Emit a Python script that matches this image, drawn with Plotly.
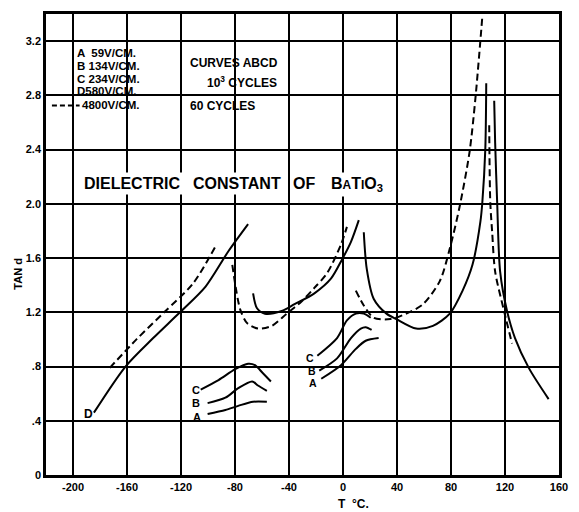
import plotly.graph_objects as go

# ---------------- data (T in deg C, tan d) ----------------
# Curve D, 580 V/cm, 10^3 cycles (solid), four branches
d_low_T = [-184.5, -161.1, -140.6, -120.8, -101.8, -84.9, -70.3]
d_low_v = [0.46, 0.80, 1.01, 1.20, 1.39, 1.65, 1.85]
d_mid_T = [-66.6, -63.7, -57.8, -45.4, -35.9, -21.2, -8.8, -0.7, 5.9, 11.7]
d_mid_v = [1.34, 1.23, 1.19, 1.21, 1.26, 1.34, 1.45, 1.59, 1.72, 1.88]
d_high_T = [15.4, 17.6, 22.7, 32.2, 39.5, 54.2, 66.6, 79.1, 88.6, 95.9, 101.8, 103.2, 105.4, 106.1]
d_high_v = [1.79, 1.52, 1.30, 1.19, 1.15, 1.08, 1.10, 1.19, 1.36, 1.55, 1.87, 2.01, 2.40, 2.89]
d_cubic_T = [112.0, 112.7, 114.2, 116.4, 121.5, 127.4, 137.6, 152.3]
d_cubic_v = [2.76, 2.45, 2.01, 1.50, 1.21, 1.01, 0.79, 0.56]

# 4800 V/cm, 60 cycles (dashed), four branches
h_low_T = [-172.8, -153.0, -132.5, -111.3, -93.7]
h_low_v = [0.79, 1.00, 1.20, 1.41, 1.70]
h_mid_T = [-82.0, -76.1, -71.0, -63.0, -52.7, -41.7, -30.7, -21.2, -11.7, -1.5, 2.9]
h_mid_v = [1.55, 1.22, 1.12, 1.08, 1.10, 1.19, 1.28, 1.38, 1.49, 1.70, 1.83]
h_high_T = [9.5, 15.4, 22.7, 35.1, 46.9, 59.3, 71.7, 79.1, 86.4, 93.7, 98.1, 103.2]
h_high_v = [1.36, 1.25, 1.16, 1.15, 1.19, 1.26, 1.43, 1.67, 1.98, 2.38, 2.78, 3.38]
h_cubic_T = [108.3, 109.1, 110.5, 112.7, 119.3, 125.2]
h_cubic_v = [2.58, 2.01, 1.79, 1.50, 1.21, 0.97]

# Curves A, B, C (10^3 cycles), two groups
a_low_T = [-100.3, -87.1, -77.6, -66.6, -56.4]
a_low_v = [0.45, 0.48, 0.51, 0.54, 0.54]
b_low_T = [-100.3, -87.1, -77.6, -67.3, -63.0, -56.4]
b_low_v = [0.53, 0.57, 0.64, 0.69, 0.66, 0.62]
c_low_T = [-105.4, -92.2, -79.8, -70.3, -65.2, -59.3, -53.4]
c_low_v = [0.63, 0.70, 0.78, 0.82, 0.81, 0.75, 0.69]
a_mid_T = [-16.1, -1.5, 9.5, 16.8, 26.4]
a_mid_v = [0.71, 0.81, 0.93, 0.99, 1.01]
b_mid_T = [-17.6, -4.4, 5.9, 13.2, 16.8, 21.2]
b_mid_v = [0.77, 0.86, 1.01, 1.08, 1.09, 1.07]
c_mid_T = [-19.0, -4.4, 2.9, 9.5, 15.4, 20.5]
c_mid_v = [0.88, 1.01, 1.14, 1.19, 1.19, 1.16]

x_ticks = [-200, -160, -120, -80, -40, 0, 40, 80, 120, 160]
x_tick_text = ["-200", "-160", "-120", "-80", "-40", "0", "40", "80", "120", "160"]
y_ticks = [0, 0.4, 0.8, 1.2, 1.6, 2.0, 2.4, 2.8, 3.2]
y_tick_text = ["0", ".4", ".8", "1.2", "1.6", "2.0", "2.4", "2.8", "3.2"]

# ---------------- figure ----------------
W, H = 579, 512
L, R, T, B = 46, 14, 11, 37
PW, PH = W - L - R, H - T - B


def px(x):
    return (x - L) / PW


def py(y):
    return (H - B - y) / PH


fig = go.Figure()

solid = [(d_low_T, d_low_v), (d_mid_T, d_mid_v), (d_high_T, d_high_v), (d_cubic_T, d_cubic_v),
         (a_low_T, a_low_v), (b_low_T, b_low_v), (c_low_T, c_low_v),
         (a_mid_T, a_mid_v), (b_mid_T, b_mid_v), (c_mid_T, c_mid_v)]
dashed = [(h_low_T, h_low_v), (h_mid_T, h_mid_v), (h_high_T, h_high_v), (h_cubic_T, h_cubic_v)]

for xs, ys in solid:
    fig.add_trace(go.Scatter(x=xs, y=ys, mode="lines", showlegend=False,
                             line=dict(color="black", width=2, shape="spline", smoothing=0.8)))
for xs, ys in dashed:
    fig.add_trace(go.Scatter(x=xs, y=ys, mode="lines", showlegend=False,
                             line=dict(color="black", width=2, dash="7px,4px", shape="spline", smoothing=0.8)))

# white patches that interrupt the grid behind the text blocks
for x0, x1, y0, y1 in [(76, 155, 40, 115), (187, 290, 40, 118)]:
    fig.add_shape(type="rect", xref="paper", yref="paper", layer="between",
                  x0=px(x0), x1=px(x1), y0=py(y1), y1=py(y0),
                  fillcolor="white", line=dict(width=0))

# legend dash sample
fig.add_shape(type="line", xref="paper", yref="paper", x0=px(52), x1=px(80), y0=py(103), y1=py(103),
              line=dict(color="black", width=2, dash="5px,3px"))

FONT = "Liberation Sans"


def note(text, x, y, size=11, xanchor="left", bg=None, pad=0, **kw):
    fig.add_annotation(text=text, x=px(x), y=py(y), xref="paper", yref="paper",
                       xanchor=xanchor, yanchor="middle", showarrow=False,
                       font=dict(family=FONT, size=size, color="black", weight="bold"),
                       bgcolor=bg, borderpad=pad, **kw)


note("A  59V/CM.", 76, 50, size=11.5)
note("B 134V/CM.", 76, 63, size=11.5)
note("C 234V/CM.", 76, 76, size=11.5)
note("D580V/CM.", 76, 89, size=11.5)
note("4800V/CM.", 81, 103, size=11.5)
note("CURVES ABCD", 191, 60, size=12)
note("10<sup>3</sup> CYCLES", 208, 79, size=12)
note("60 CYCLES", 191, 104, size=12)

note("DIELECTRIC", 81, 182, size=16, bg="white", pad=2)
note("CONSTANT", 192, 182, size=16, bg="white", pad=2)
note("OF", 293, 182, size=16, bg="white", pad=2)
note("B<span style='font-size:12px'>A</span>T<span style='font-size:12px'>I</span>O<sub>3</sub>",
     331, 183, size=16, bg="white", pad=2)

# curve labels
note("D", 89, 414, size=12, xanchor="center")
note("C", 198, 389, size=11, xanchor="center")
note("B", 198, 403, size=11, xanchor="center")
note("A", 199, 417, size=11, xanchor="center")
note("C", 313, 357, size=10.5, xanchor="center")
note("B", 315, 370, size=10.5, xanchor="center")
note("A", 316, 382, size=10.5, xanchor="center")

# axis titles
note("TAN d", 18, 272, size=11, xanchor="center", textangle=-90)
note("T  °C.", 357, 504, size=12, xanchor="center")

axis_common = dict(showgrid=True, gridcolor="black", gridwidth=1.8, zeroline=False,
                   showline=True, linecolor="black", linewidth=2.5, mirror=True,
                   ticks="", tickfont=dict(family=FONT, size=11, color="black", weight="bold"))

fig.update_xaxes(range=[-220, 160], tickvals=x_ticks, ticktext=x_tick_text, **axis_common)
fig.update_yaxes(range=[0, 3.4], tickvals=y_ticks, ticktext=y_tick_text, **axis_common)

fig.update_layout(width=W, height=H, margin=dict(l=L, r=R, t=T, b=B),
                  plot_bgcolor="white", paper_bgcolor="white", showlegend=False)

fig.write_html("out.html")
